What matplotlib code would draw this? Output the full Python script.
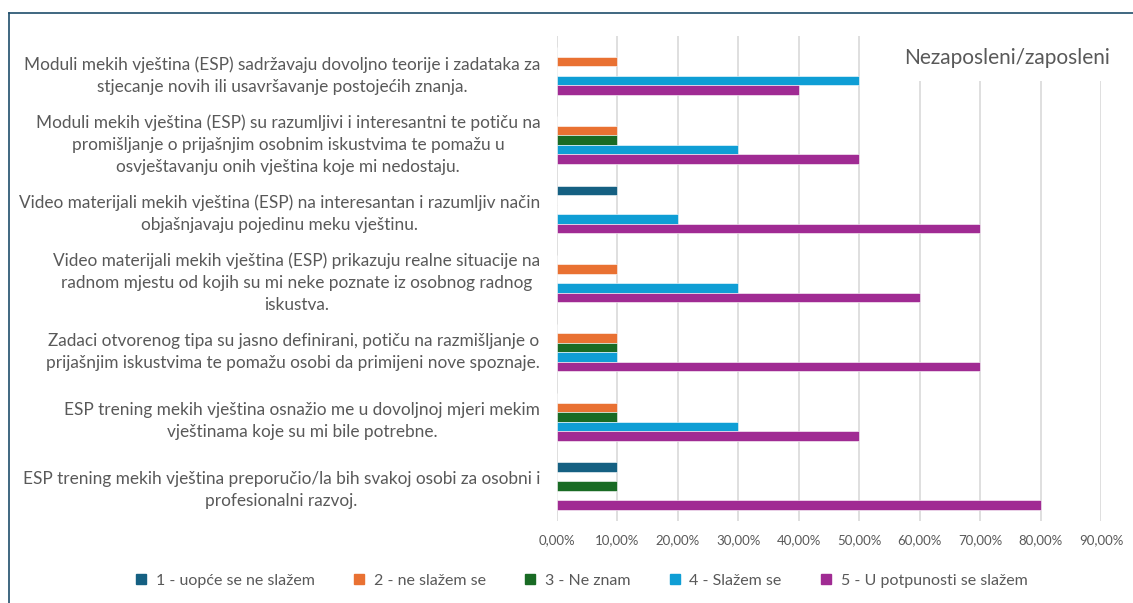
import matplotlib
matplotlib.use("Agg")
import matplotlib.pyplot as plt
import numpy as np
from matplotlib.lines import Line2D
from matplotlib.ticker import FuncFormatter

# --------------------------------
# DATOS
# --------------------------------

pitanja = [
    "Moduli mekih vještina (ESP) sadržavaju dovoljno teorije i zadataka za\n"
    "stjecanje novih ili usavršavanje postojećih znanja.",
    "Moduli mekih vještina (ESP) su razumljivi i interesantni te potiču na\n"
    "promišljanje o prijašnjim osobnim iskustvima te pomažu u\n"
    "osvještavanju onih vještina koje mi nedostaju.",
    "Video materijali mekih vještina (ESP) na interesantan i razumljiv način\n"
    "objašnjavaju pojedinu meku vještinu.",
    "Video materijali mekih vještina (ESP) prikazuju realne situacije na\n"
    "radnom mjestu od kojih su mi neke poznate iz osobnog radnog\n"
    "iskustva.",
    "Zadaci otvorenog tipa su jasno definirani, potiču na razmišljanje o\n"
    "prijašnjim iskustvima te pomažu osobi da primijeni nove spoznaje.",
    "ESP trening mekih vještina osnažio me u dovoljnoj mjeri mekim\n"
    "vještinama koje su mi bile potrebne.",
    "ESP trening mekih vještina preporučio/la bih svakoj osobi za osobni i\n"
    "profesionalni razvoj.",
]

serije = [
    "1 - uopće se ne slažem",
    "2 - ne slažem se",
    "3 - Ne znam",
    "4 - Slažem se",
    "5 - U potpunosti se slažem",
]

uopce_ne = [0.0, 0.0, 0.1, 0.0, 0.0, 0.0, 0.1]
ne_slazem = [0.1, 0.1, 0.0, 0.1, 0.1, 0.1, 0.0]
ne_znam = [0.0, 0.1, 0.0, 0.0, 0.1, 0.1, 0.1]
slazem = [0.5, 0.3, 0.2, 0.3, 0.1, 0.3, 0.0]
potpuno = [0.4, 0.5, 0.7, 0.6, 0.7, 0.5, 0.8]

vrijednosti = [uopce_ne, ne_slazem, ne_znam, slazem, potpuno]

boje = ["#156082", "#E97132", "#196B24", "#0F9ED5", "#A02B93"]

SIVA = "#595959"
plt.rcParams["font.family"] = ["Lato", "DejaVu Sans"]

# --------------------------------
# FIGURA
# --------------------------------

fig = plt.figure(figsize=(11.33, 6.03), dpi=100)
ax = fig.add_axes([0.4916, 0.1367, 0.4802, 0.8029])

y = np.arange(len(pitanja))
h = 0.137

for i, (naziv, vals) in enumerate(zip(serije, vrijednosti)):
    ax.barh(
        y + (i - 2) * h,
        vals,
        height=h,
        color=boje[i],
        edgecolor="white",
        linewidth=0.4,
        label=naziv,
        zorder=3,
    )

ax.set_xlim(0, 0.9)
ax.set_ylim(len(pitanja) - 0.5, -0.5)
ax.set_xticks(np.arange(0, 0.91, 0.1))
ax.xaxis.set_major_formatter(
    FuncFormatter(lambda v, p: f"{v * 100:.2f}%".replace(".", ","))
)

ax.set_yticks(y)
ax.set_yticklabels(pitanja, fontsize=12.4, color=SIVA,
                   multialignment="center", linespacing=1.45)

ax.grid(axis="x", color="#D9D9D9", linewidth=1.2, zorder=0)
for s in ax.spines.values():
    s.set_visible(False)
ax.tick_params(axis="x", length=0, labelsize=9.5, labelcolor=SIVA, pad=10)
ax.tick_params(axis="y", length=0, pad=12)

# Título
ax.text(
    1.017, 0.955, "Nezaposleni/zaposleni",
    transform=ax.transAxes,
    ha="right", va="center",
    fontsize=15, color=SIVA,
    bbox=dict(facecolor="white", edgecolor="none", pad=9),
    zorder=5,
)

# Leyenda
manejadores = [
    Line2D([], [], marker="s", linestyle="none", markersize=7,
           markerfacecolor=c, markeredgecolor=c)
    for c in boje
]
fig.legend(
    manejadores, serije,
    loc="center", bbox_to_anchor=(0.513, 0.037),
    ncol=5, frameon=False, fontsize=11.5,
    handlelength=0.8, handletextpad=0.5, columnspacing=2.4,
    labelcolor=SIVA,
)

# Marco
fig.add_artist(Line2D([0.008, 1.0], [0.978, 0.978], transform=fig.transFigure,
                      color="#1F4E6B", linewidth=1.2))
fig.add_artist(Line2D([0.008, 0.008], [0.0, 0.978], transform=fig.transFigure,
                      color="#1F4E6B", linewidth=1.2))

fig.savefig("out.png", dpi=100, facecolor="white")
